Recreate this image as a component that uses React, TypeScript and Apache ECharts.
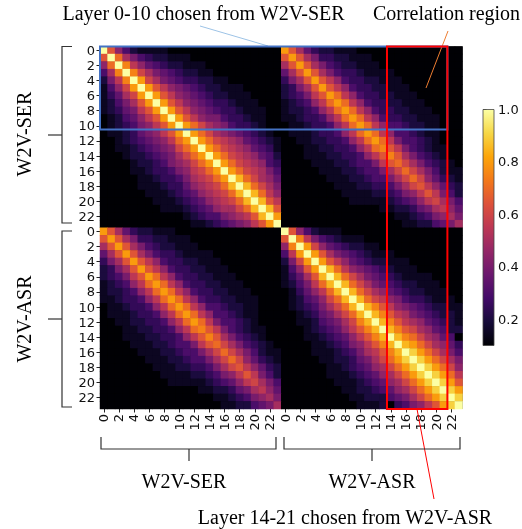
import React, { useEffect, useRef } from "react";
import * as echarts from "echarts";

// ---------- data ----------
const layerLabels = ["0","1","2","3","4","5","6","7","8","9","10","11","12","13","14","15","16","17","18","19","20","21","22","23"];
const modelNames = ["W2V-SER", "W2V-ASR"];
const colorbarTicks = [0.2, 0.4, 0.6, 0.8, 1.0];
const valueMin = 0.1;
const valueMax = 1.0;

// value levels: a=0.10, b=0.15, ... s=1.00 (steps of 0.05)
const LEVELS = "abcdefghijklmnopqrs";

// Each block stored by diagonal: string k holds cells (i, i+k), i = 0.. ; further diagonals are black (a)
const serSerDiagonals = [
  "ssssssssssssssssssssssss",
  "lmnnooooooooooooopppppop".slice(0, 23),
  "hijkklllllmmmmmmmmmmll",
  "eghiijjjjjkkkkkkkkkjj",
  "cefgghhhhhiijjjjjiih",
  "bdeffggggghhiiiiihg",
  "bcdeeffffggghhhhgf",
  "bccddeeeeeeffffee",
  "bbccdddddddeeeedd",
  "abbccccdddddddc",
  "abbbcccccccccb",
  "aabbbbbbbbbbb",
  "aaaabbbbbbaa",
  "aaaaabbbbaa",
];

const serAsrDiagonals = [
  "ooooooooooooonnmmmllkjii",
  "llllllmmmmmmmllkkkjjihg",
  "iiiijjjjjjjjjjiiihhggf",
  "fggghhhhhhhhgggggffee",
  "ddeeeeeeeeeeeeeeeddc",
  "cdddddddddeeedddccc",
  "cccddddddddddcccbb",
  "bccccccccccccbbbb",
  "bbbbcccccccbbbaa",
  "bbbbbbbbbbbbaaa",
  "abbbbbbbbbbaaa",
  "aaabbbbbbbaaa",
];

const asrAsrDiagonals = [
  "ssssssssssssssssssssssss",
  "lnooopppppppppppqqqqqqqq".slice(0, 23),
  "hjkllmmmmmnnnnnooooooo",
  "eghijjkkkkllllmmmmmml",
  "cefghhiiijjjjkkkkkkj",
  "bdeffggghhhiiiiiiih",
  "bcdeeffffggghhhhgg",
  "bbcddeeeeeffffffe",
  "abcccdddddeeeeed",
  "abbbcccccddddc",
  "aabbbbbccccccc",
  "aaabbbbbbbccb",
  "aaaabbbbbbbb",
  "aaaaaabbbbb",
];

// ---------- helpers ----------
const N = layerLabels.length;
function level(ch: string): number {
  return +(valueMin + 0.05 * LEVELS.indexOf(ch)).toFixed(2);
}
function blockFromDiagonals(diags: string[]): number[][] {
  const m: number[][] = [];
  for (let i = 0; i < N; i++) {
    m.push([]);
    for (let j = 0; j < N; j++) m[i].push(level("a"));
  }
  diags.forEach((s, d) => {
    for (let i = 0; i < s.length && i + d < N; i++) {
      const v = level(s[i]);
      m[i][i + d] = v;
      m[i + d][i] = v;
    }
  });
  return m;
}

const INFERNO = [
  "#000004", "#160b39", "#420a68", "#6a176e", "#932667", "#bc3754",
  "#dd513a", "#f37819", "#fca50a", "#f6d746", "#fcffa4",
];

export default function App() {
  const ref = useRef<HTMLDivElement>(null);
  useEffect(() => {
    if (!ref.current) return;
    const chart = echarts.init(ref.current, undefined, { renderer: "svg" });

    const A = blockFromDiagonals(serSerDiagonals);
    const B = blockFromDiagonals(serAsrDiagonals);
    const D = blockFromDiagonals(asrAsrDiagonals);
    const data: number[][] = [];
    for (let r = 0; r < 2 * N; r++) {
      for (let c = 0; c < 2 * N; c++) {
        let v: number;
        if (r < N && c < N) v = A[r][c];
        else if (r < N) v = B[r][c - N];
        else if (c < N) v = B[c][r - N];
        else v = D[r - N][c - N];
        data.push([c, r, v]);
      }
    }
    const cats = [
      ...layerLabels.map((l) => "SER " + l),
      ...layerLabels.map((l) => "ASR " + l),
    ];

    const G = { left: 100, top: 46.5, width: 362.5, height: 362.5 };
    const cell = G.width / (2 * N);
    const CB = { left: 483, top: 109.5, width: 11, height: 236 };

    const tickFont = { fontFamily: "DejaVu Sans", fontSize: 13, color: "#111" };
    const serif = '"Liberation Serif", "Times New Roman", serif';
    const br = { stroke: "#333", lineWidth: 1.2, fill: null as any };

    const textEl = (text: string, x: number, y: number, rot = 0) => ({
      type: "text", x, y, rotation: rot, z: 100,
      style: { text, fontFamily: serif, fontSize: 20, fill: "#000", align: "center", verticalAlign: "middle" },
    });
    const lineEl = (x1: number, y1: number, x2: number, y2: number, stroke: string, w = 1) => ({
      type: "line", z: 100, shape: { x1, y1, x2, y2 }, style: { stroke, lineWidth: w },
    });
    const poly = (pts: number[][]) => ({ type: "polyline", z: 100, shape: { points: pts }, style: br });

    chart.setOption({
      animation: false,
      grid: [
        { left: G.left, top: G.top, width: G.width, height: G.height, show: true, backgroundColor: "#000004", borderWidth: 0 },
        { left: CB.left, top: CB.top, width: CB.width, height: CB.height },
      ],
      xAxis: [
        {
          type: "category", gridIndex: 0, data: cats,
          axisLine: { show: false },
          axisTick: { show: true, interval: 1, alignWithLabel: true, length: 3.5, lineStyle: { color: "#222" } },
          axisLabel: { ...tickFont, interval: 1, rotate: 90, margin: 5, formatter: (v: string) => v.split(" ")[1] },
          splitLine: { show: false },
        },
        { type: "value", gridIndex: 1, show: false, min: 0, max: 1 },
      ],
      yAxis: [
        {
          type: "category", gridIndex: 0, data: cats, inverse: true,
          axisLine: { show: false },
          axisTick: { show: true, interval: 1, alignWithLabel: true, length: 3.5, lineStyle: { color: "#222" } },
          axisLabel: { ...tickFont, interval: 1, margin: 5, formatter: (v: string) => v.split(" ")[1] },
          splitLine: { show: false },
        },
        {
          type: "value", gridIndex: 1, position: "right", min: valueMin, max: valueMax,
          axisLine: { show: false },
          splitLine: { show: false },
          axisTick: { show: true, customValues: colorbarTicks, length: 3.5, lineStyle: { color: "#222" } },
          axisLabel: { ...tickFont, customValues: colorbarTicks, margin: 4, formatter: (v: number) => v.toFixed(1) },
        },
      ],
      visualMap: {
        show: false, type: "continuous", min: valueMin, max: valueMax, dimension: 2, seriesIndex: 0,
        inRange: { color: INFERNO },
      },
      series: [
        {
          type: "heatmap", xAxisIndex: 0, yAxisIndex: 0, data, progressive: 0,
          emphasis: { disabled: true }, itemStyle: { borderWidth: 0 },
        },
      ],
      graphic: [
        // colorbar
        {
          type: "rect", z: 100,
          shape: { x: CB.left, y: CB.top, width: CB.width, height: CB.height },
          style: {
            fill: new echarts.graphic.LinearGradient(0, 1, 0, 0,
              INFERNO.map((c, i) => ({ offset: i / (INFERNO.length - 1), color: c }))),
            stroke: "#444", lineWidth: 0.8,
          },
        },
        // selection boxes
        {
          type: "rect", z: 101,
          shape: { x: G.left, y: G.top, width: 46 * cell, height: 11 * cell },
          style: { fill: "transparent", stroke: "#4472C4", lineWidth: 2 },
        },
        {
          type: "rect", z: 102,
          shape: { x: G.left + 38 * cell, y: G.top, width: 8 * cell, height: 48 * cell },
          style: { fill: "transparent", stroke: "#FF0000", lineWidth: 2 },
        },
        // callout lines
        lineEl(200, 26, 268, 46, "#9DC3E6"),
        lineEl(448, 31, 426, 88, "#ED7D31"),
        lineEl(417, 409, 434, 499, "#FF0000"),
        // brackets
        poly([[72, 46.5], [62, 46.5], [62, 223], [72, 223]]),
        poly([[48, 135], [62, 135]]),
        poly([[72, 231], [62, 231], [62, 407], [72, 407]]),
        poly([[48, 319], [62, 319]]),
        poly([[101, 437], [101, 449], [276, 449], [276, 437]]),
        poly([[189, 449], [189, 461]]),
        poly([[284, 437], [284, 449], [460, 449], [460, 437]]),
        poly([[372, 449], [372, 461]]),
        // texts
        textEl(modelNames[0], 24, 134, Math.PI / 2),
        textEl(modelNames[1], 24, 319, Math.PI / 2),
        textEl(modelNames[0], 184, 481),
        textEl(modelNames[1], 372, 481),
        textEl("Layer 0-10 chosen from " + modelNames[0], 203.5, 13),
        textEl("Correlation region", 446.5, 13),
        textEl("Layer 14-21 chosen from " + modelNames[1], 345, 517),
      ],
    });
    return () => chart.dispose();
  }, []);
  return <div ref={ref} style={{ position: "fixed", left: 0, top: 0, width: 522, height: 529 }} />;
}
